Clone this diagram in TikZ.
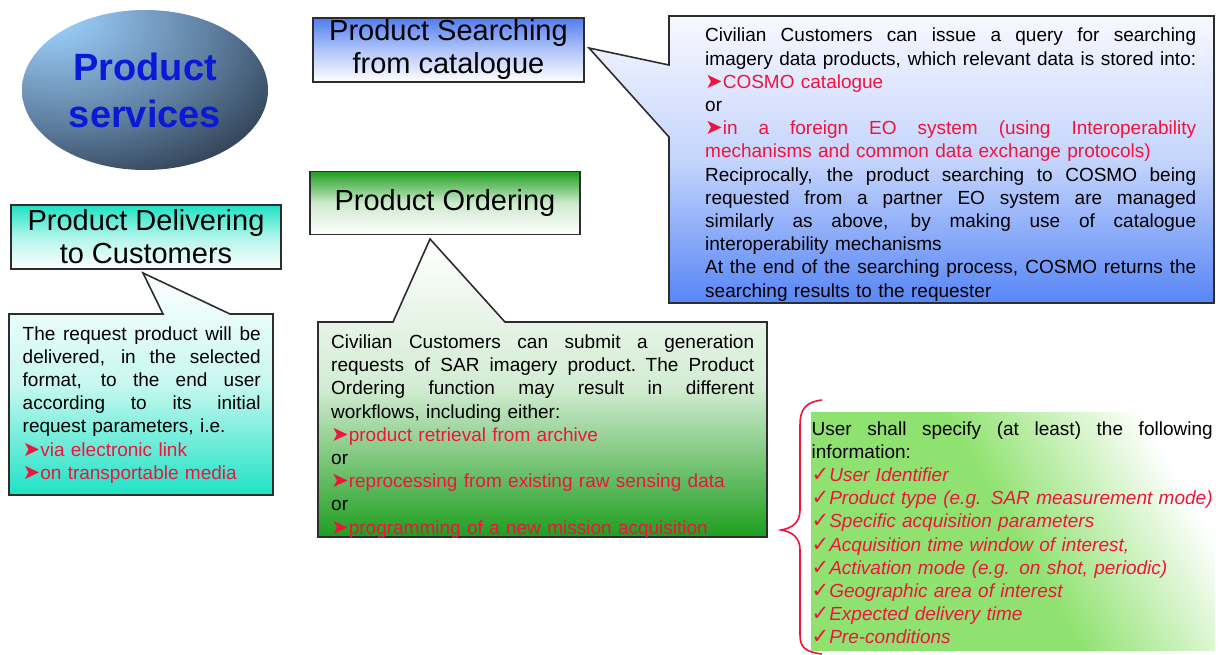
\documentclass[tikz,border=0pt]{standalone}
\usepackage{fontspec}
\setmainfont{Liberation Sans}
\newfontfamily\symfont{DejaVu Sans}
\usetikzlibrary{shapes.geometric}
\definecolor{redtxt}{RGB}{240,20,60}
\definecolor{psblue}{RGB}{10,25,215}
\definecolor{elllight}{RGB}{152,202,246}
\definecolor{ellmid}{RGB}{92,124,156}
\definecolor{elldark}{RGB}{36,46,62}
\definecolor{sblue}{RGB}{80,125,240}
\definecolor{scall}{RGB}{88,134,246}
\definecolor{scalltop}{RGB}{248,248,255}
\definecolor{ogreen}{RGB}{30,158,30}
\definecolor{dteal}{RGB}{30,226,196}
\definecolor{infogreen}{RGB}{144,226,112}
\definecolor{framec}{RGB}{45,45,45}
\pgfdeclareradialshading{psball}{\pgfpoint{-22bp}{26bp}}{color(0bp)=(elllight); color(6bp)=(elllight); color(30bp)=(ellmid); color(50bp)=(elldark); color(100bp)=(elldark)}
\newcommand\bul{{\symfont\fontsize{21}{23.2}\selectfont ➤}}
\newcommand\chk{{\symfont\fontsize{21}{23.2}\selectfont ✓}}
\newcommand\jl[2]{\leavevmode\hbox to #1{\spaceskip=0.278em plus 1fil\relax #2}}
\tikzset{
  txt/.style={anchor=base west, inner sep=0pt, align=left, font=\fontsize{19}{23.2}\selectfont},
  tbox/.style={draw=framec, line width=1.2pt, align=center, inner sep=0pt, font=\fontsize{29}{33}\selectfont},
  callout/.style={draw=framec, line width=1.6pt, line join=miter},
}
\begin{document}
\begin{tikzpicture}[x=1pt,y=-1pt]
\useasboundingbox (0,0) rectangle (1224,655);

% ellipse
\node[ellipse, shading=psball, minimum width=246pt, minimum height=160pt, inner sep=0pt,
  text=psblue, font=\bfseries\fontsize{38}{47}\selectfont, align=center] (ps) at (145,90) {Product\\services};

% searching
\node[tbox, top color=sblue, bottom color=white, middle color=sblue!45, minimum width=271pt, minimum height=64pt] (st) at (448.5,50) {Product Searching\\from catalogue};
\coordinate (stip) at (589,48);
\draw[callout, top color=scalltop, bottom color=scall, middle color=scall!35]
  (669,16) -- (1214,16) -- (1214,303) -- (669,303) -- (669,137) -- (stip) -- (669,65) -- cycle;
\node[txt, text width=491pt] (stx) at (705,42) {%
\jl{491pt}{Civilian Customers can issue a query for searching}\\
\jl{491pt}{imagery data products, which relevant data is stored into:}\\
{\color{redtxt}\bul COSMO catalogue}\\
or\\
\jl{491pt}{\color{redtxt}\bul in a foreign EO system (using Interoperability}\\
{\color{redtxt}mechanisms and common data exchange protocols)}\\
\jl{491pt}{Reciprocally, the product searching to COSMO being}\\
\jl{491pt}{requested from a partner EO system are managed}\\
\jl{491pt}{similarly as above, by making use of catalogue}\\
interoperability mechanisms\\
\jl{491pt}{At the end of the searching process, COSMO returns the}\\
searching results to the requester};

% ordering
\node[tbox, top color=ogreen, bottom color=white, middle color=ogreen!22, minimum width=270pt, minimum height=63pt] (ot) at (445,203) {Product Ordering};
\coordinate (otip) at (430,239);
\draw[callout, top color=white, bottom color=ogreen, middle color=ogreen!20]
  (318,322) -- (393,322) -- (otip) -- (505,322) -- (767,322) -- (767,537) -- (318,537) -- cycle;
\node[txt, text width=423pt] (otx) at (331,348.5) {%
\jl{423pt}{Civilian Customers can submit a generation}\\
\jl{423pt}{requests of SAR imagery product. The Product}\\
\jl{423pt}{Ordering function may result in different}\\
workflows, including either:\\
{\color{redtxt}\bul product retrieval from archive}\\
or\\
{\color{redtxt}\bul reprocessing from existing raw sensing data}\\
or\\
{\color{redtxt}\bul programming of a new mission acquisition}};

% delivering
\node[tbox, top color=dteal, bottom color=white, middle color=dteal!35, minimum width=270pt, minimum height=64pt] (dt) at (146,237) {Product Delivering\\to Customers};
\coordinate (dtip) at (143,273);
\draw[callout, top color=white, bottom color=dteal, middle color=dteal!25]
  (9,314) -- (163,314) -- (dtip) -- (230,314) -- (273,314) -- (273,495) -- (9,495) -- cycle;
\node[txt, text width=238pt] (dtx) at (22.5,340) {%
\jl{238pt}{The request product will be}\\
\jl{238pt}{delivered, in the selected}\\
\jl{238pt}{format, to the end user}\\
\jl{238pt}{according to its initial}\\
request parameters, i.e.\\
{\color{redtxt}\bul via electronic link}\\
{\color{redtxt}\bul on transportable media}};

% info box
\path[top color=white, bottom color=infogreen, middle color=infogreen, shading angle=-60] (811,412) rectangle (1215,650);
\node[txt, text width=401pt] (gx) at (811.5,435) {%
\jl{401pt}{User shall specify (at least) the following}\\
information:\\
{\color{redtxt}\chk\itshape User Identifier}\\
{\color{redtxt}\chk\itshape Product type (e.g. SAR measurement mode)}\\
{\color{redtxt}\chk\itshape Specific acquisition parameters}\\
{\color{redtxt}\chk\itshape Acquisition time window of interest,}\\
{\color{redtxt}\chk\itshape Activation mode (e.g. on shot, periodic)}\\
{\color{redtxt}\chk\itshape Geographic area of interest}\\
{\color{redtxt}\chk\itshape Expected delivery time}\\
{\color{redtxt}\chk\itshape Pre-conditions}};

% brace
\draw[redtxt, line width=1.6pt] (822,400) .. controls (805,402) and (800,410) .. (800,425) -- (800,510)
  .. controls (800,522) and (793,528) .. (781,530) .. controls (793,532) and (800,538) .. (800,550)
  -- (800,635) .. controls (800,647) and (805,652) .. (822,654);
\end{tikzpicture}
\end{document}
